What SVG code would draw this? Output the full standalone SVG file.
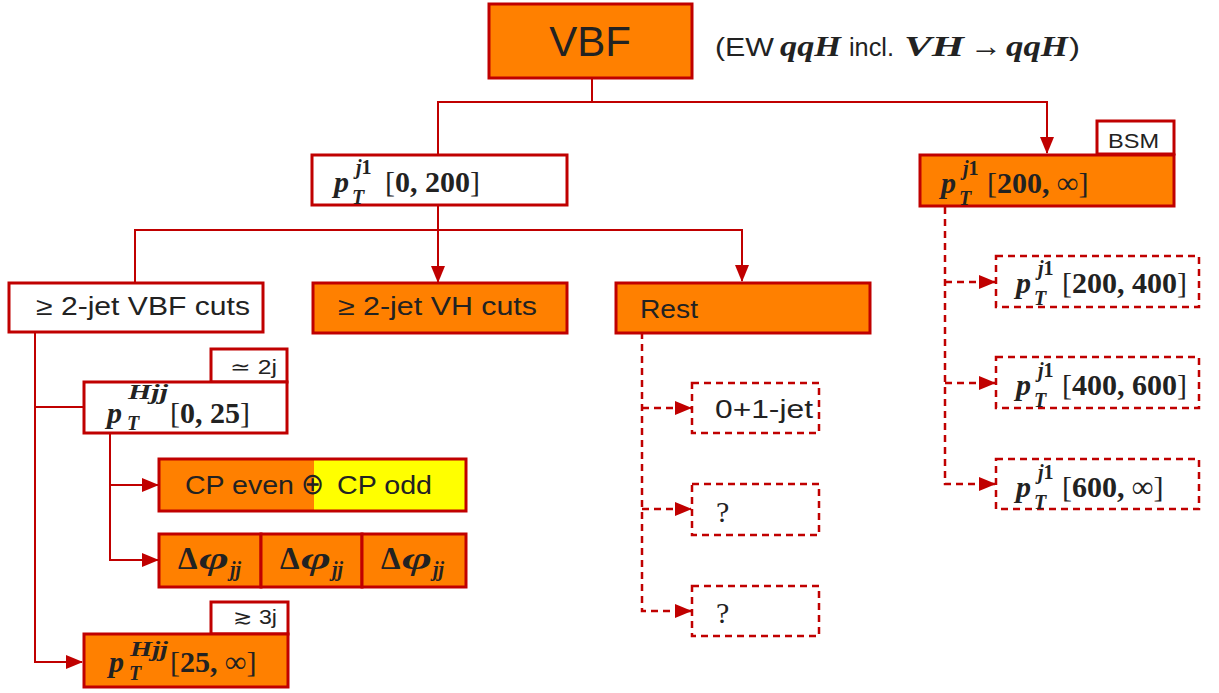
<svg xmlns="http://www.w3.org/2000/svg" width="1219" height="693" viewBox="0 0 1219 693">
<style>
.box{fill:#FF8000;stroke:#C00000;stroke-width:3}
.wbox{fill:#fff;stroke:#C00000;stroke-width:3}
.dbox{fill:#fff;stroke:#C00000;stroke-width:2.5;stroke-dasharray:7 5}
.ln{fill:none;stroke:#C00000;stroke-width:2}
.dl{fill:none;stroke:#C00000;stroke-width:2.5;stroke-dasharray:7 5}
.s{font-family:"Liberation Sans",Arial,sans-serif;fill:#222}
.m{font-family:"Liberation Serif","Times New Roman",serif;fill:#222;font-size:30px}
.bi{font-weight:bold;font-style:italic}
.b{font-weight:bold}
.sup{font-size:20px;font-weight:bold;font-style:italic}
</style>
<defs>
<marker id="ar" markerUnits="userSpaceOnUse" markerWidth="17" markerHeight="14" refX="16" refY="7" orient="auto">
<path d="M0,0 L17,7 L0,14 z" fill="#C00000"/>
</marker>
</defs>

<g id="connectors">
<polyline class="ln" points="592,78 592,102 438,102 438,154"/>
<polyline class="ln" points="592,102 1047,102 1047,153" marker-end="url(#ar)"/>
<polyline class="ln" points="438,205 438,282" marker-end="url(#ar)"/>
<polyline class="ln" points="135,282 135,230 742,230 742,281" marker-end="url(#ar)"/>
<polyline class="ln" points="35,332 35,662 82,662" marker-end="url(#ar)"/>
<line class="ln" x1="35" y1="407" x2="84" y2="407"/>
<polyline class="ln" points="110,433 110,560 158,560" marker-end="url(#ar)"/>
<polyline class="ln" points="110,485 158,485" marker-end="url(#ar)"/>
<polyline class="dl" points="642,332 642,611 691,611" marker-end="url(#ar)"/>
<polyline class="dl" points="642,408 691,408" marker-end="url(#ar)"/>
<polyline class="dl" points="642,509 691,509" marker-end="url(#ar)"/>
<polyline class="dl" points="945,207 945,484 995,484" marker-end="url(#ar)"/>
<polyline class="dl" points="945,282 995,282" marker-end="url(#ar)"/>
<polyline class="dl" points="945,383 995,383" marker-end="url(#ar)"/>
</g>

<g id="vbf">
<rect class="box" x="489" y="4" width="203" height="74"/>
<text class="s" x="590" y="56" font-size="42" text-anchor="middle">VBF</text>
</g>
<g id="vbf-note">
<text class="s" font-size="25" y="56"><tspan x="715" textLength="59" lengthAdjust="spacingAndGlyphs">(EW</tspan><tspan class="m bi" x="780" font-size="28" textLength="61" lengthAdjust="spacingAndGlyphs">qqH</tspan><tspan x="849" textLength="45" lengthAdjust="spacingAndGlyphs">incl.</tspan><tspan class="m bi" x="904" font-size="28" textLength="60" lengthAdjust="spacingAndGlyphs">VH</tspan><tspan class="m" x="970" font-size="28" textLength="32" lengthAdjust="spacingAndGlyphs">→</tspan><tspan class="m bi" x="1006" font-size="28" textLength="62" lengthAdjust="spacingAndGlyphs">qqH</tspan><tspan x="1069" textLength="11" lengthAdjust="spacingAndGlyphs">)</tspan></text>
</g>

<g id="pt-0-200">
<rect class="wbox" x="312" y="155" width="255" height="50"/>
<text class="m"><tspan class="bi" x="334" y="192">p</tspan><tspan class="sup" x="356" y="174">j<tspan font-style="normal">1</tspan></tspan><tspan class="sup" x="352" y="204">T</tspan><tspan x="385" y="192">[<tspan class="b">0, 200</tspan>]</tspan></text>
</g>

<g id="bsm-tag">
<rect class="wbox" x="1097" y="121" width="77" height="33"/>
<text class="s" x="1108" y="148" font-size="21" textLength="51" lengthAdjust="spacingAndGlyphs">BSM</text>
</g>
<g id="pt-200-inf">
<rect class="box" x="920" y="155" width="254" height="51"/>
<text class="m"><tspan class="bi" x="941" y="193">p</tspan><tspan class="sup" x="963" y="175">j<tspan font-style="normal">1</tspan></tspan><tspan class="sup" x="959" y="205">T</tspan><tspan x="987" y="193">[<tspan class="b">200, ∞</tspan>]</tspan></text>
</g>

<g id="vbf-cuts">
<rect class="wbox" x="9" y="283" width="254" height="49"/>
<text class="s" x="36" y="315" font-size="25" textLength="214" lengthAdjust="spacingAndGlyphs">≥ 2-jet VBF cuts</text>
</g>
<g id="vh-cuts">
<rect class="box" x="313" y="283" width="254" height="50"/>
<text class="s" x="338" y="315" font-size="25" textLength="199" lengthAdjust="spacingAndGlyphs">≥ 2-jet VH cuts</text>
</g>
<g id="rest">
<rect class="box" x="616" y="283" width="254" height="50"/>
<text class="s" x="640" y="318" font-size="25" textLength="58" lengthAdjust="spacingAndGlyphs">Rest</text>
</g>

<g id="tag-2j">
<rect class="wbox" x="211" y="349" width="76" height="33"/>
<text class="s" x="230" y="374" font-size="20" textLength="47" lengthAdjust="spacingAndGlyphs">≃ 2j</text>
</g>
<g id="pthjj-0-25">
<rect class="wbox" x="84" y="382" width="203" height="51"/>
<text class="m"><tspan class="bi" x="107" y="423">p</tspan><tspan class="sup" x="128" y="399" textLength="40" lengthAdjust="spacingAndGlyphs">Hjj</tspan><tspan class="sup" x="127" y="430">T</tspan><tspan x="170" y="423">[<tspan class="b">0, 25</tspan>]</tspan></text>
</g>

<g id="cp">
<rect x="159" y="459" width="155" height="52" fill="#FF8000"/>
<rect x="314" y="459" width="152" height="52" fill="#FFFF00"/>
<rect x="159" y="459" width="307" height="52" fill="none" stroke="#C00000" stroke-width="3"/>
<text class="s" font-size="25" y="494"><tspan x="185" textLength="109" lengthAdjust="spacingAndGlyphs">CP even</tspan><tspan class="m" x="301" font-size="28" font-family="DejaVu Serif" textLength="23" lengthAdjust="spacingAndGlyphs">⊕</tspan><tspan x="337" textLength="95" lengthAdjust="spacingAndGlyphs">CP odd</tspan></text>
</g>

<g id="dphi">
<rect class="box" x="159" y="534" width="102" height="53"/>
<rect class="box" x="261" y="534" width="101" height="53"/>
<rect class="box" x="362" y="534" width="104" height="53"/>
<text class="m"><tspan class="b" x="178" y="569" font-size="31">Δ</tspan><tspan class="bi" x="199" font-size="31" textLength="30" lengthAdjust="spacingAndGlyphs">φ</tspan><tspan class="sup" x="230" y="576">jj</tspan></text>
<text class="m"><tspan class="b" x="280" y="569" font-size="31">Δ</tspan><tspan class="bi" x="301" font-size="31" textLength="30" lengthAdjust="spacingAndGlyphs">φ</tspan><tspan class="sup" x="332" y="576">jj</tspan></text>
<text class="m"><tspan class="b" x="381" y="569" font-size="31">Δ</tspan><tspan class="bi" x="402" font-size="31" textLength="30" lengthAdjust="spacingAndGlyphs">φ</tspan><tspan class="sup" x="433" y="576">jj</tspan></text>
</g>

<g id="tag-3j">
<rect class="wbox" x="211" y="602" width="77" height="32"/>
<text class="s" x="233" y="624" font-size="20" textLength="44" lengthAdjust="spacingAndGlyphs">≳ 3j</text>
</g>
<g id="pthjj-25-inf">
<rect class="box" x="84" y="634" width="204" height="53"/>
<text class="m"><tspan class="bi" x="109" y="672">p</tspan><tspan class="sup" x="130" y="656" textLength="38" lengthAdjust="spacingAndGlyphs">Hjj</tspan><tspan class="sup" x="129" y="680">T</tspan><tspan x="170" y="672">[<tspan class="b">25, ∞</tspan>]</tspan></text>
</g>

<g id="rest-01jet">
<rect class="dbox" x="692" y="383" width="127" height="50"/>
<text class="s" x="715" y="418" font-size="25" textLength="98" lengthAdjust="spacingAndGlyphs">0+1-jet</text>
</g>
<g id="rest-q1">
<rect class="dbox" x="692" y="484" width="127" height="51"/>
<text class="m" x="716" y="522">?</text>
</g>
<g id="rest-q2">
<rect class="dbox" x="692" y="586" width="127" height="50"/>
<text class="m" x="716" y="623">?</text>
</g>

<g id="pt-200-400">
<rect class="dbox" x="996" y="256" width="203" height="51"/>
<text class="m"><tspan class="bi" x="1016" y="293">p</tspan><tspan class="sup" x="1038" y="275">j<tspan font-style="normal">1</tspan></tspan><tspan class="sup" x="1034" y="305">T</tspan><tspan x="1062" y="293">[<tspan class="b">200, 400</tspan>]</tspan></text>
</g>
<g id="pt-400-600">
<rect class="dbox" x="996" y="357" width="203" height="51"/>
<text class="m"><tspan class="bi" x="1016" y="395">p</tspan><tspan class="sup" x="1038" y="377">j<tspan font-style="normal">1</tspan></tspan><tspan class="sup" x="1034" y="407">T</tspan><tspan x="1062" y="395">[<tspan class="b">400, 600</tspan>]</tspan></text>
</g>
<g id="pt-600-inf">
<rect class="dbox" x="996" y="459" width="203" height="50"/>
<text class="m"><tspan class="bi" x="1016" y="497">p</tspan><tspan class="sup" x="1038" y="479">j<tspan font-style="normal">1</tspan></tspan><tspan class="sup" x="1034" y="509">T</tspan><tspan x="1062" y="497">[<tspan class="b">600, ∞</tspan>]</tspan></text>
</g>
</svg>
